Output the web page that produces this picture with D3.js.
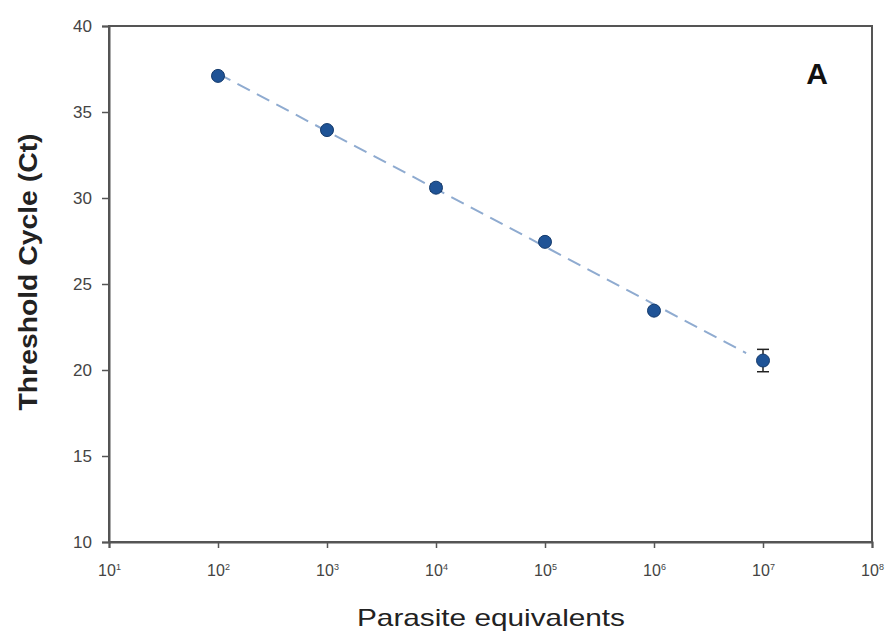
<!DOCTYPE html>
<html>
<head>
<meta charset="utf-8">
<script src="https://cdn.jsdelivr.net/npm/d3@7"></script>
<style>
  html, body { margin: 0; padding: 0; background: #fff; }
  svg { display: block; }
</style>
</head>
<body>
<svg id="chart" width="893" height="639"></svg>
<script>
// Standard curve: Ct against parasite equivalents (log scale)
const parasiteEquivalents = [1e2, 1e3, 1e4, 1e5, 1e6, 1e7];
const meanCt = [37.1, 33.95, 30.6, 27.45, 23.45, 20.55];
const ctError = [0.15, 0.15, 0.2, 0.15, 0.15, 0.65];
const xTickValues = [1e1, 1e2, 1e3, 1e4, 1e5, 1e6, 1e7, 1e8];
const xTickExponents = ["1", "2", "3", "4", "5", "6", "7", "8"];
const yTickValues = [10, 15, 20, 25, 30, 35, 40];

const svg = d3.select("#chart");
const margin = { left: 109, right: 893 - 872, top: 26, bottom: 639 - 542 };
const W = 893, H = 639;
const font = "Arial, 'Liberation Sans', sans-serif";

const x = d3.scaleLog().domain([1e1, 1e8]).range([margin.left, W - margin.right]);
const y = d3.scaleLinear().domain([10, 40]).range([H - margin.bottom, margin.top]);

const axisColor = "#555";

// Least-squares fit of Ct on log10(parasite equivalents)
const lx = parasiteEquivalents.map(Math.log10);
const mx = d3.mean(lx), my = d3.mean(meanCt);
const slope = d3.sum(lx, (v, i) => (v - mx) * (meanCt[i] - my)) / d3.sum(lx, v => (v - mx) ** 2);
const intercept = my - slope * mx;
const fitPts = [parasiteEquivalents[0], parasiteEquivalents[parasiteEquivalents.length - 1] * 0.7]
  .map(v => [v, intercept + slope * Math.log10(v)]);

svg.append("path")
  .datum(fitPts)
  .attr("d", d3.line().x(d => x(d[0])).y(d => y(d[1])))
  .attr("fill", "none")
  .attr("stroke", "#8fabd0")
  .attr("stroke-width", 2)
  .attr("stroke-dasharray", "14,8");

// Frame
svg.append("rect")
  .attr("x", x.range()[0]).attr("y", y.range()[1])
  .attr("width", x.range()[1] - x.range()[0])
  .attr("height", y.range()[0] - y.range()[1])
  .attr("fill", "none").attr("stroke", axisColor).attr("stroke-width", 2);

// Y axis
const yAxis = svg.append("g")
  .attr("transform", `translate(${margin.left},0)`)
  .call(d3.axisLeft(y).tickValues(yTickValues).tickSize(7).tickPadding(10).tickFormat(d3.format("d")));
yAxis.select(".domain").attr("stroke", axisColor).attr("stroke-width", 2);
yAxis.selectAll(".tick line").attr("stroke", axisColor).attr("stroke-width", 1.5);
yAxis.selectAll(".tick text")
  .attr("fill", "#444").attr("font-family", font).attr("font-size", 17);

// X axis with power-of-ten labels
const xAxis = svg.append("g")
  .attr("transform", `translate(0,${H - margin.bottom})`)
  .call(d3.axisBottom(x).tickValues(xTickValues).tickSize(6).tickPadding(17).tickFormat(() => ""));
xAxis.select(".domain").attr("stroke", axisColor).attr("stroke-width", 2);
xAxis.selectAll(".tick line").attr("stroke", axisColor).attr("stroke-width", 1.5);
xAxis.selectAll(".tick text").each(function(d, i) {
  const t = d3.select(this)
    .attr("fill", "#444")
    .attr("font-family", font)
    .attr("font-size", 16)
    .attr("dy", "0.71em");
  t.append("tspan").text("10");
  t.append("tspan").attr("font-size", 9).attr("dy", "-0.75em").text(xTickExponents[i]);
});

// Error bars
const errG = svg.append("g").attr("stroke", "#222").attr("stroke-width", 1.5);
parasiteEquivalents.forEach((v, i) => {
  const cx = x(v);
  errG.append("line").attr("x1", cx).attr("x2", cx).attr("y1", y(meanCt[i] + ctError[i])).attr("y2", y(meanCt[i] - ctError[i]));
  errG.append("line").attr("x1", cx - 6).attr("x2", cx + 6).attr("y1", y(meanCt[i] + ctError[i])).attr("y2", y(meanCt[i] + ctError[i]));
  errG.append("line").attr("x1", cx - 6).attr("x2", cx + 6).attr("y1", y(meanCt[i] - ctError[i])).attr("y2", y(meanCt[i] - ctError[i]));
});

// Points
svg.append("g").selectAll("circle")
  .data(parasiteEquivalents)
  .join("circle")
  .attr("cx", d => x(d))
  .attr("cy", (d, i) => y(meanCt[i]))
  .attr("r", 6.5)
  .attr("fill", "#1f5396")
  .attr("stroke", "#163c6e")
  .attr("stroke-width", 1);

// Axis titles
svg.append("text")
  .attr("x", 491)
  .attr("y", 626)
  .attr("text-anchor", "middle")
  .attr("font-family", font)
  .attr("font-size", 24)
  .attr("textLength", 268)
  .attr("lengthAdjust", "spacingAndGlyphs")
  .attr("fill", "#222")
  .text("Parasite equivalents");

svg.append("text")
  .attr("transform", "translate(37,272) rotate(-90)")
  .attr("text-anchor", "middle")
  .attr("font-family", font)
  .attr("font-weight", "bold")
  .attr("font-size", 26)
  .attr("textLength", 277)
  .attr("lengthAdjust", "spacingAndGlyphs")
  .attr("fill", "#222")
  .text("Threshold Cycle (Ct)");

// Panel label
svg.append("text")
  .attr("x", 817).attr("y", 84)
  .attr("text-anchor", "middle")
  .attr("font-family", font)
  .attr("font-weight", "bold")
  .attr("font-size", 30)
  .attr("fill", "#111")
  .text("A");
</script>
</body>
</html>
